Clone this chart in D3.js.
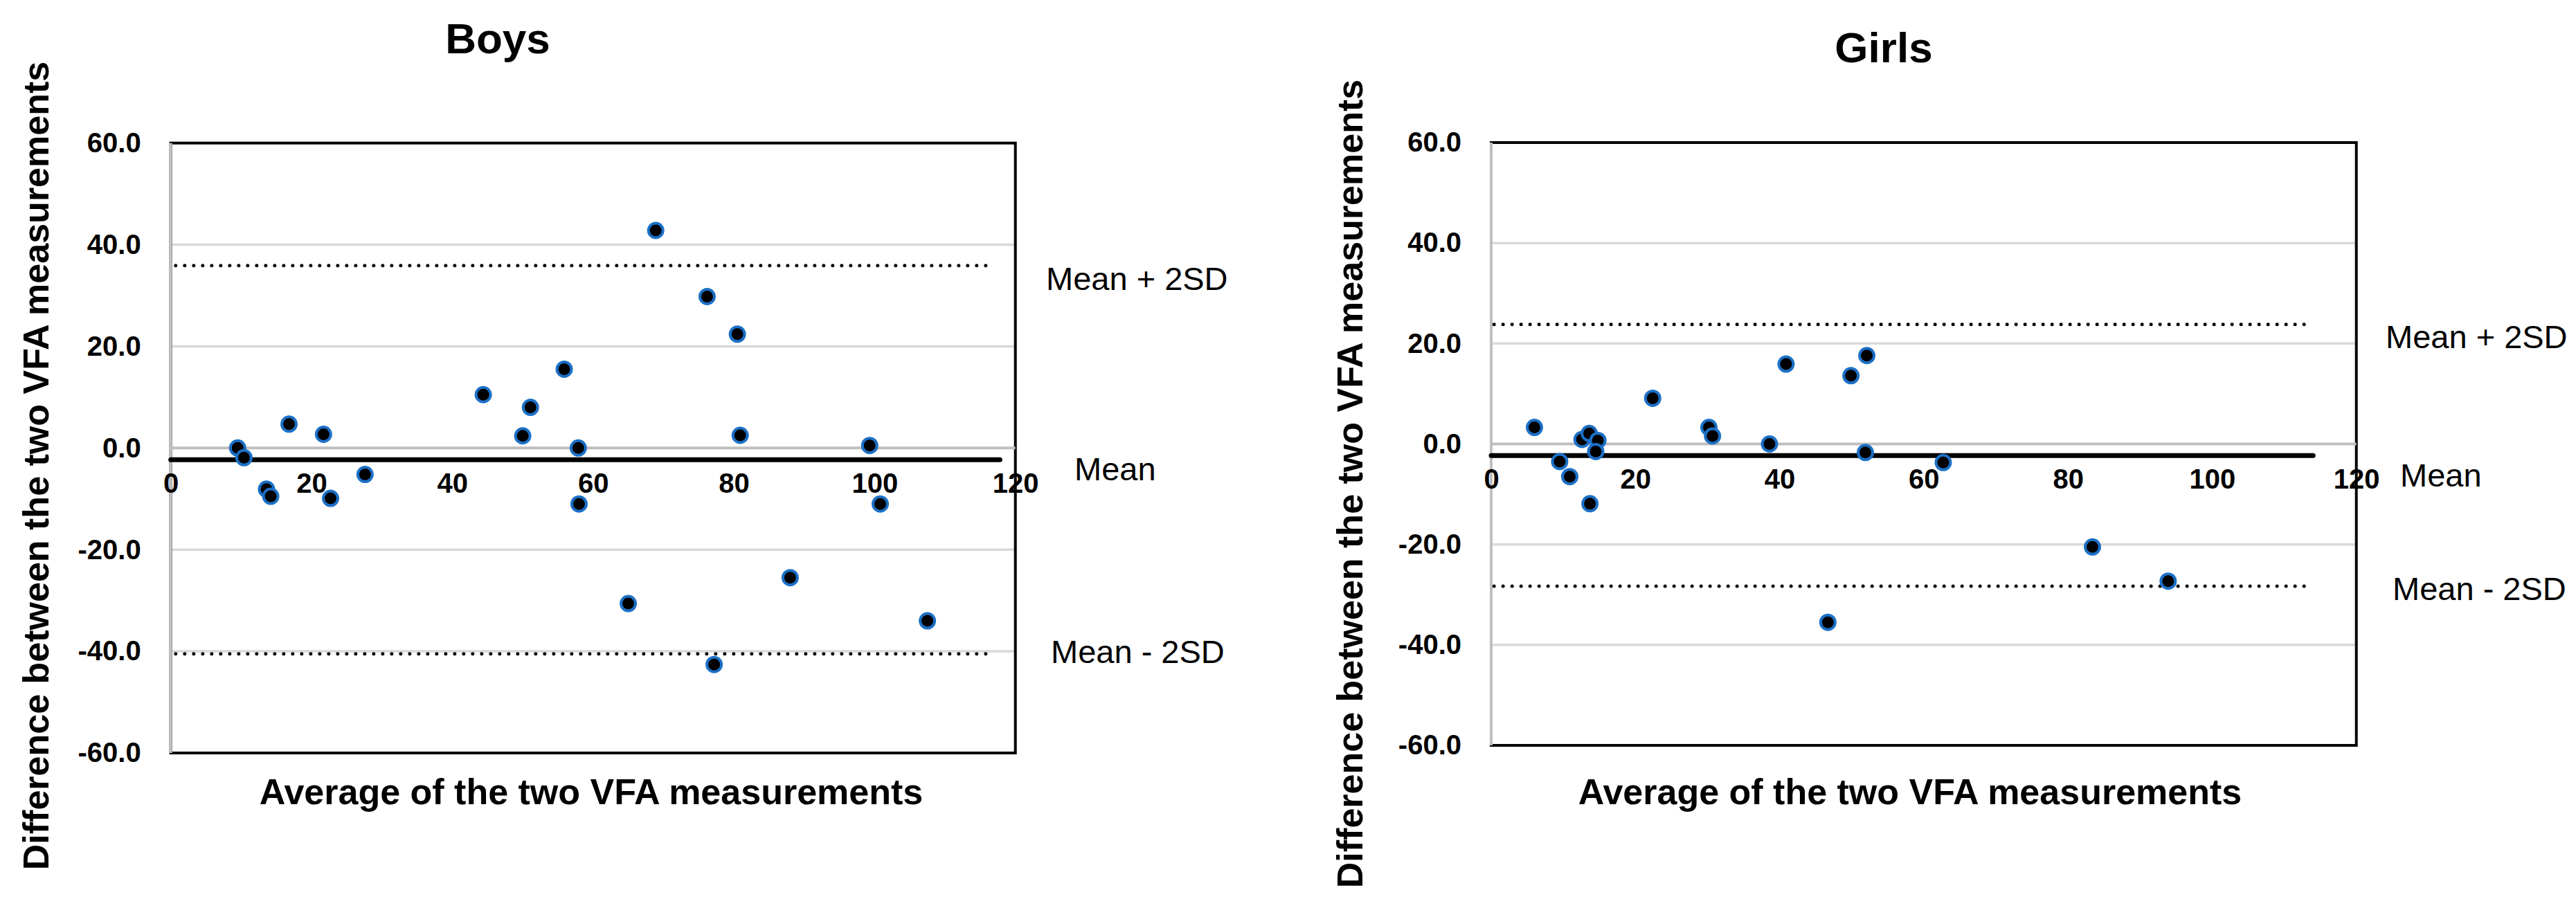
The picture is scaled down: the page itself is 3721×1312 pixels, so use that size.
<!DOCTYPE html>
<html>
<head>
<meta charset="utf-8">
<script src="https://cdn.jsdelivr.net/npm/d3@7"></script>
<style>
  body { margin: 0; background: #fff; }
  svg { display: block; }
  text { font-family: "Liberation Sans", Arial, sans-serif; fill: #000; }
</style>
</head>
<body>
<div id="chart"></div>
<script>
// values
const xTicks = [0, 20, 40, 60, 80, 100, 120];
const yTicks = [-60, -40, -20, 0, 20, 40, 60];

const boysAvg  = [9.5, 10.4, 13.6, 14.2, 16.8, 21.7, 22.7, 27.6, 44.4, 50.0, 51.1, 55.9, 57.9, 58.0, 65.0, 68.9, 76.2, 77.2, 80.5, 80.9, 88.0, 99.3, 100.8, 107.5];
const boysDiff = [0.0, -1.9, -8.1, -9.5, 4.7, 2.7, -9.9, -5.2, 10.5, 2.4, 8.0, 15.5, 0.0, -11.0, -30.6, 42.8, 29.8, -42.6, 22.4, 2.5, -25.5, 0.5, -11.0, -34.0];

const girlsAvg  = [6.0, 9.5, 10.9, 12.6, 13.6, 14.8, 14.5, 13.7, 22.4, 30.2, 30.7, 38.6, 40.9, 46.7, 49.9, 52.1, 51.9, 62.7, 83.4, 93.9];
const girlsDiff = [3.3, -3.5, -6.5, 0.9, 2.1, 0.7, -1.5, -11.9, 9.1, 3.3, 1.6, 0.0, 15.9, -35.5, 13.6, 17.6, -1.7, -3.7, -20.5, -27.3];

// mean and limits of agreement, with the x span each line covers
const boysMean = -2.3, boysUpper = 35.9, boysLower = -40.5;
const girlsMean = -2.3, girlsUpper = 23.8, girlsLower = -28.3;
const boysMeanSpan = [0, 117.8], boysLimitSpan = [0.7, 116.8];
const girlsMeanSpan = [0, 114.0], girlsLimitSpan = [0.4, 113.5];

const W = 3721, H = 1312;
const svg = d3.select("#chart").append("svg")
  .attr("width", W).attr("height", H)
  .attr("viewBox", [0, 0, W, H]);

const panels = [
  { title: "Boys", avg: boysAvg, diff: boysDiff,
    mean: boysMean, upper: boysUpper, lower: boysLower,
    meanSpan: boysMeanSpan, limitSpan: boysLimitSpan,
    box: { left: 246.7, right: 1466.7, top: 206.7, bottom: 1088 },
    titleAt: [719, 77], yTitleAt: [70, 673], xTitleAt: [854, 1162],
    upperAt: [1511, 419], meanAt: [1552, 694], lowerAt: [1518, 958] },
  { title: "Girls", avg: girlsAvg, diff: girlsDiff,
    mean: girlsMean, upper: girlsUpper, lower: girlsLower,
    meanSpan: girlsMeanSpan, limitSpan: girlsLimitSpan,
    box: { left: 2154, right: 3403.7, top: 206, bottom: 1077 },
    titleAt: [2721, 90], yTitleAt: [1968, 699], xTitleAt: [2759, 1162],
    upperAt: [3446, 503], meanAt: [3467, 703], lowerAt: [3456, 867] }
];

panels.forEach(p => {
  const g = svg.append("g");
  const b = p.box;

  const x = d3.scaleLinear().domain([0, 120]).range([b.left, b.right]);
  const y = d3.scaleLinear().domain([-60, 60]).range([b.bottom, b.top]);

  // horizontal gridlines
  g.selectAll(".grid")
    .data(yTicks.filter(d => d !== 0 && Math.abs(d) !== 60))
    .join("line")
    .attr("x1", b.left).attr("x2", b.right)
    .attr("y1", d => y(d)).attr("y2", d => y(d))
    .attr("stroke", "#d9d9d9")
    .attr("stroke-width", 3.5);

  // plot border
  g.append("rect")
    .attr("x", b.left).attr("y", b.top)
    .attr("width", b.right - b.left).attr("height", b.bottom - b.top)
    .attr("fill", "none")
    .attr("stroke", "#000")
    .attr("stroke-width", 4);

  // vertical axis line and horizontal axis at zero
  g.append("line")
    .attr("x1", b.left).attr("x2", b.left)
    .attr("y1", b.top).attr("y2", b.bottom)
    .attr("stroke", "#bfbfbf").attr("stroke-width", 4);
  g.append("line")
    .attr("x1", b.left).attr("x2", b.right)
    .attr("y1", y(0)).attr("y2", y(0))
    .attr("stroke", "#bfbfbf").attr("stroke-width", 4);

  // limits of agreement (dotted)
  g.selectAll(".limit")
    .data([p.upper, p.lower])
    .join("line")
    .attr("x1", x(p.limitSpan[0])).attr("x2", x(p.limitSpan[1]))
    .attr("y1", d => y(d)).attr("y2", d => y(d))
    .attr("stroke", "#000")
    .attr("stroke-width", 5)
    .attr("stroke-linecap", "round")
    .attr("stroke-dasharray", "0 13");

  // mean difference
  g.append("line")
    .attr("x1", x(p.meanSpan[0])).attr("x2", x(p.meanSpan[1]))
    .attr("y1", y(p.mean)).attr("y2", y(p.mean))
    .attr("stroke", "#000")
    .attr("stroke-width", 7)
    .attr("stroke-linecap", "round");

  // points
  g.selectAll(".pt")
    .data(d3.zip(p.avg, p.diff))
    .join("circle")
    .attr("cx", d => x(d[0]))
    .attr("cy", d => y(d[1]))
    .attr("r", 10.5)
    .attr("fill", "#000")
    .attr("stroke", "#1c70c6")
    .attr("stroke-width", 4);

  // axes
  const xAxis = g.append("g")
    .attr("transform", `translate(0,${y(0)})`)
    .call(d3.axisBottom(x).tickValues(xTicks).tickSize(0).tickPadding(36).tickFormat(d3.format("d")));
  const yAxis = g.append("g")
    .attr("transform", `translate(${b.left},0)`)
    .call(d3.axisLeft(y).tickValues(yTicks).tickSize(0).tickPadding(43).tickFormat(d => d.toFixed(1)));
  [xAxis, yAxis].forEach(a => {
    a.select(".domain").remove();
    a.selectAll("text")
      .attr("fill", "#000")
      .style("font-family", '"Liberation Sans", Arial, sans-serif')
      .style("font-size", "40px")
      .style("font-weight", "bold");
  });

  // titles
  g.append("text")
    .attr("x", p.titleAt[0]).attr("y", p.titleAt[1])
    .attr("text-anchor", "middle")
    .style("font-size", "62px").style("font-weight", "bold")
    .text(p.title);

  g.append("text")
    .attr("transform", `translate(${p.yTitleAt[0]},${p.yTitleAt[1]}) rotate(-90)`)
    .attr("text-anchor", "middle")
    .style("font-size", "52px").style("font-weight", "bold")
    .text("Difference between the two VFA measurements");

  g.append("text")
    .attr("x", p.xTitleAt[0]).attr("y", p.xTitleAt[1])
    .attr("text-anchor", "middle")
    .style("font-size", "52px").style("font-weight", "bold")
    .text("Average of the two VFA measurements");

  // line labels
  [[p.upperAt, "Mean + 2SD"], [p.meanAt, "Mean"], [p.lowerAt, "Mean - 2SD"]].forEach(([pos, label]) => {
    g.append("text")
      .attr("x", pos[0]).attr("y", pos[1])
      .style("font-size", "47px")
      .text(label);
  });
});
</script>
</body>
</html>
